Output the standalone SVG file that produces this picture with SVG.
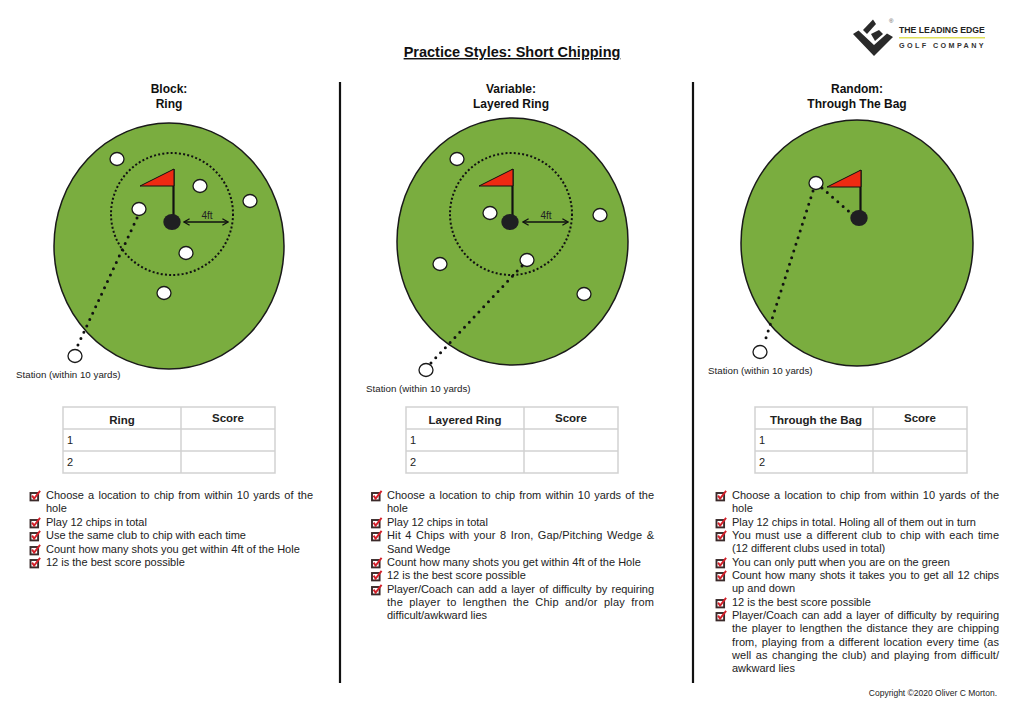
<svg xmlns="http://www.w3.org/2000/svg" xmlns:xlink="http://www.w3.org/1999/xlink" width="1024" height="724" viewBox="0 0 1024 724">
<style>
text{font-family:"Liberation Sans",Arial,sans-serif;fill:#222}
.t{font-size:12px;font-weight:bold;text-anchor:middle;fill:#111}
.l{font-size:11px}
.j{font-size:11px;word-spacing:1.2px}
.s{font-size:9.75px}
.h{font-size:11.5px;font-weight:bold;text-anchor:middle}
.c{font-size:11px}
.f{font-size:10px;text-anchor:middle}
.g{fill:#7aad3f;stroke:#1a1a1a;stroke-width:1.5}
.ball{fill:#fff;stroke:#1a1a1a;stroke-width:1.3}
.ring{fill:none;stroke:#111;stroke-width:2;stroke-dasharray:2 2.2}
.dot{fill:none;stroke:#111;stroke-width:3;stroke-linecap:round;stroke-dasharray:0 7}
.pole{stroke:#111;stroke-width:2.2}
.flag{fill:#ee2a12;stroke:#111;stroke-width:1}
.hole{fill:#1f1f22}
.arrow{stroke:#111;stroke-width:1.3;fill:none;marker-start:url(#a);marker-end:url(#a)}
.tb{fill:none;stroke:#d2d2d2;stroke-width:1.5}
.div{stroke:#111;stroke-width:2.2}
</style>
<defs>
<marker id="a" viewBox="0 0 10 10" refX="9" refY="5" markerWidth="8" markerHeight="8" orient="auto-start-reverse" markerUnits="userSpaceOnUse"><path d="M2 1L9 5L2 9" fill="none" stroke="#111" stroke-width="1.6"/></marker>
<g id="chk"><rect x="1" y="3" width="7.6" height="7.4" fill="#fff" stroke="#3a2a2a" stroke-width="1.9"/><path d="M2.6 5.6L4.6 8.6L10.6 0.8" fill="none" stroke="#d3202a" stroke-width="1.9"/></g>
</defs>
<rect width="1024" height="724" fill="#fff"/>

<g id="title"><text x="512" y="57" text-anchor="middle" font-size="14.5" font-weight="bold" text-decoration="underline" style="fill:#111">Practice Styles: Short Chipping</text></g>

<g id="logo">
<polygon points="853,34 858.5,30.5 874,45 887,33.5 893,37 874,56" fill="#2a2a2a"/>
<polygon points="863,30 873,19.5 876,24 867,34" fill="#2a2a2a"/>
<polygon points="871,34 879,30 883,34 875,41" fill="#2a2a2a"/>
<text x="889" y="23" font-size="6" style="fill:#555">®</text>
<text x="899" y="33" font-size="8.7" font-weight="bold" style="fill:#222">THE LEADING EDGE</text>
<rect x="899" y="37" width="86" height="1.5" fill="#dfe05a"/>
<text x="899" y="48" font-size="7.2" font-weight="bold" letter-spacing="2.4" style="fill:#333">GOLF COMPANY</text>
</g>

<g id="dividers"><line class="div" x1="340" y1="82" x2="340" y2="683"/><line class="div" x1="693" y1="82" x2="693" y2="683"/></g>

<g id="block-heading"><text class="t" x="169" y="93">Block:</text><text class="t" x="169" y="108">Ring</text></g>
<g id="variable-heading"><text class="t" x="511" y="93">Variable:</text><text class="t" x="511" y="108">Layered Ring</text></g>
<g id="random-heading"><text class="t" x="857" y="93">Random:</text><text class="t" x="857" y="108">Through The Bag</text></g>

<g id="green1">
<ellipse class="g" cx="169" cy="246" rx="115" ry="123"/>
<circle class="ring" cx="172" cy="214" r="61"/>
<ellipse class="ball" cx="117" cy="159" rx="7" ry="6.5"/><ellipse class="ball" cx="200" cy="186" rx="7" ry="6.5"/><ellipse class="ball" cx="250" cy="201" rx="7" ry="6.5"/><ellipse class="ball" cx="139" cy="209" rx="7" ry="6.5"/><ellipse class="ball" cx="186" cy="253" rx="7" ry="6.5"/><ellipse class="ball" cx="164" cy="293" rx="7" ry="6.5"/>
<ellipse class="ball" cx="75" cy="356" rx="7" ry="6.5"/>
<line class="pole" x1="173.5" y1="169" x2="173.5" y2="216"/><polygon class="flag" points="140,186 174,169 174,186"/>
<ellipse class="hole" cx="172" cy="222" rx="8.7" ry="8"/>
<line class="arrow" x1="184" y1="222" x2="228" y2="222"/><text class="f" x="207" y="219">4ft</text>
</g>
<g id="green2">
<ellipse class="g" cx="512.5" cy="241.5" rx="115.5" ry="123.5"/>
<circle class="ring" cx="511" cy="214" r="61"/>
<ellipse class="ball" cx="457" cy="159" rx="7" ry="6.5"/><ellipse class="ball" cx="490" cy="213" rx="7" ry="6.5"/><ellipse class="ball" cx="600" cy="215" rx="7" ry="6.5"/><ellipse class="ball" cx="440" cy="264" rx="7" ry="6.5"/><ellipse class="ball" cx="527" cy="260" rx="7" ry="6.5"/><ellipse class="ball" cx="584" cy="294" rx="7" ry="6.5"/>
<ellipse class="ball" cx="426" cy="370" rx="7" ry="6.5"/>
<line class="pole" x1="512.5" y1="169" x2="512.5" y2="216"/><polygon class="flag" points="479,186 513,169 513,186"/>
<ellipse class="hole" cx="510" cy="222" rx="8.7" ry="8"/>
<line class="arrow" x1="523" y1="222" x2="568" y2="222"/><text class="f" x="546" y="219">4ft</text>
</g>
<g id="green3">
<ellipse class="g" cx="857" cy="243" rx="116" ry="123"/>
<ellipse class="ball" cx="816" cy="183" rx="7" ry="6.5"/>
<ellipse class="ball" cx="760" cy="352" rx="7" ry="6.5"/>
<line class="pole" x1="860.5" y1="170" x2="860.5" y2="212"/><polygon class="flag" points="827,187 861,170 861,187"/>
<ellipse class="hole" cx="859" cy="218" rx="8.7" ry="8"/>
</g>
<g id="connectors">
<line class="dot" x1="137" y1="218" x2="77" y2="347"/>
<line class="dot" x1="522" y1="266" x2="430" y2="364"/>
<line class="dot" x1="813" y1="191" x2="764" y2="344"/>
<line class="dot" x1="822" y1="188" x2="853" y2="215"/>
</g>
<g id="station-labels">
<text class="s" x="16" y="378">Station (within 10 yards)</text>
<text class="s" x="366" y="392">Station (within 10 yards)</text>
<text class="s" x="708" y="374">Station (within 10 yards)</text>
</g>

<g id="table1">
<path class="tb" d="M63 407H275V473H63ZM63 429H275M63 451H275M181 407V473"/>
<text class="h" x="122" y="424">Ring</text><text class="h" x="228" y="422">Score</text>
<text class="c" x="67" y="444">1</text><text class="c" x="67" y="466">2</text>
</g>
<g id="table2">
<path class="tb" d="M406 407H618V473H406ZM406 429H618M406 451H618M524 407V473"/>
<text class="h" x="465" y="424">Layered Ring</text><text class="h" x="571" y="422">Score</text>
<text class="c" x="410" y="444">1</text><text class="c" x="410" y="466">2</text>
</g>
<g id="table3">
<path class="tb" d="M755 407H967V473H755ZM755 429H967M755 451H967M873 407V473"/>
<text class="h" x="816" y="424">Through the Bag</text><text class="h" x="920" y="422">Score</text>
<text class="c" x="759" y="444">1</text><text class="c" x="759" y="466">2</text>
</g>

<g id="list1">
<use href="#chk" x="29.5" y="490"/><use href="#chk" x="29.5" y="517"/><use href="#chk" x="29.5" y="530"/><use href="#chk" x="29.5" y="544"/><use href="#chk" x="29.5" y="557"/>
<text class="j" x="46" y="499" textLength="267">Choose a location to chip from within 10 yards of the</text>
<text class="l" x="46" y="512">hole</text>
<text class="l" x="46" y="526">Play 12 chips in total</text>
<text class="l" x="46" y="539">Use the same club to chip with each time</text>
<text class="l" x="46" y="553">Count how many shots you get within 4ft of the Hole</text>
<text class="l" x="46" y="566">12 is the best score possible</text>
</g>
<g id="list2">
<use href="#chk" x="371" y="490"/><use href="#chk" x="371" y="517"/><use href="#chk" x="371" y="530"/><use href="#chk" x="371" y="557"/><use href="#chk" x="371" y="570"/><use href="#chk" x="371" y="584"/>
<text class="j" x="387" y="499" textLength="267">Choose a location to chip from within 10 yards of the</text>
<text class="l" x="387" y="512">hole</text>
<text class="l" x="387" y="526">Play 12 chips in total</text>
<text class="j" x="387" y="539" textLength="267">Hit 4 Chips with your 8 Iron, Gap/Pitching Wedge &amp;</text>
<text class="l" x="387" y="553">Sand Wedge</text>
<text class="l" x="387" y="566">Count how many shots you get within 4ft of the Hole</text>
<text class="l" x="387" y="579">12 is the best score possible</text>
<text class="j" x="387" y="593" textLength="267">Player/Coach can add a layer of difficulty by requiring</text>
<text class="j" x="387" y="606" style="word-spacing:3px" textLength="267">the player to lengthen the Chip and/or play from</text>
<text class="l" x="387" y="619">difficult/awkward lies</text>
</g>
<g id="list3">
<use href="#chk" x="715.5" y="490"/><use href="#chk" x="715.5" y="517"/><use href="#chk" x="715.5" y="530"/><use href="#chk" x="715.5" y="557"/><use href="#chk" x="715.5" y="570"/><use href="#chk" x="715.5" y="597"/><use href="#chk" x="715.5" y="610"/>
<text class="j" x="732" y="499" textLength="267">Choose a location to chip from within 10 yards of the</text>
<text class="l" x="732" y="512">hole</text>
<text class="l" x="732" y="526">Play 12 chips in total. Holing all of them out in turn</text>
<text class="j" x="732" y="539" textLength="267">You must use a different club to chip with each time</text>
<text class="l" x="732" y="552">(12 different clubs used in total)</text>
<text class="l" x="732" y="566">You can only putt when you are on the green</text>
<text class="j" x="732" y="579" textLength="267">Count how many shots it takes you to get all 12 chips</text>
<text class="l" x="732" y="592">up and down</text>
<text class="l" x="732" y="606">12 is the best score possible</text>
<text class="j" x="732" y="619" textLength="267">Player/Coach can add a layer of difficulty by requiring</text>
<text class="j" x="732" y="632" textLength="267">the player to lengthen the distance they are chipping</text>
<text class="j" x="732" y="646" textLength="267">from, playing from a different location every time (as</text>
<text class="j" x="732" y="659" textLength="267">well as changing the club) and playing from difficult/</text>
<text class="l" x="732" y="672">awkward lies</text>
</g>
<g id="copyright"><text x="997" y="696" font-size="8.5" text-anchor="end">Copyright ©2020 Oliver C Morton.</text></g>
</svg>
